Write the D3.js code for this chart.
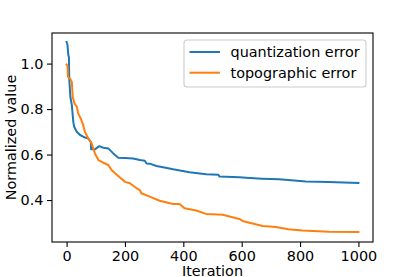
<!DOCTYPE html>
<html>
<head>
<meta charset="utf-8">
<script src="https://cdn.jsdelivr.net/npm/d3@7/dist/d3.min.js"></script>
<style>
  body { margin: 0; background: #fff; }
  svg text { font-family: "DejaVu Sans", sans-serif; }
</style>
</head>
<body>
<svg id="chart" width="415" height="277"></svg>
<script>
// quantization error
var qeIter = [0, 3, 6, 8, 9, 13, 18, 23, 26, 35, 46, 55, 63, 74, 83, 84, 97, 112, 126, 143, 160, 177, 200, 228, 251, 268, 274, 285, 308, 335, 365, 421, 478, 520, 524, 592, 615, 670, 728, 780, 820, 897, 950, 1000];
var qeVal = [1.095, 1.083, 1.036, 1.029, 0.934, 0.853, 0.817, 0.744, 0.722, 0.70, 0.686, 0.68, 0.675, 0.671, 0.656, 0.623, 0.623, 0.637, 0.63, 0.627, 0.605, 0.586, 0.585, 0.583, 0.576, 0.573, 0.561, 0.56, 0.55, 0.543, 0.535, 0.522, 0.513, 0.511, 0.503, 0.5, 0.498, 0.494, 0.491, 0.486, 0.482, 0.479, 0.477, 0.475];

// topographic error
var teIter = [0, 3, 5, 12, 18, 21, 27, 35, 40, 48, 55, 63, 74, 86, 97, 109, 126, 143, 154, 166, 188, 200, 217, 240, 251, 256, 285, 319, 365, 387, 404, 444, 478, 535, 592, 603, 672, 717, 760, 808, 899, 1000];
var teVal = [0.996, 0.99, 0.941, 0.934, 0.919, 0.853, 0.825, 0.81, 0.78, 0.76, 0.737, 0.70, 0.671, 0.649, 0.605, 0.576, 0.564, 0.554, 0.532, 0.518, 0.494, 0.48, 0.474, 0.452, 0.444, 0.43, 0.415, 0.397, 0.383, 0.383, 0.364, 0.354, 0.339, 0.335, 0.317, 0.308, 0.286, 0.281, 0.272, 0.266, 0.261, 0.259];

var seriesNames = ["quantization error", "topographic error"];
var xTicks = [0, 200, 400, 600, 800, 1000];
var yTicks = [0.4, 0.6, 0.8, 1.0];

var svg = d3.select("#chart"),
    plotLeft = 52, plotRight = 373, plotTop = 33, plotBottom = 242;

var x = d3.scaleLinear().domain([-50, 1050]).range([plotLeft, plotRight]);
var y = d3.scaleLinear().domain([0.2155, 1.1345]).range([plotBottom, plotTop]);

var colors = ["#1f77b4", "#ff7f0e"];
var series = [
  qeIter.map(function(d, i) { return [d, qeVal[i]]; }),
  teIter.map(function(d, i) { return [d, teVal[i]]; })
];

var line = d3.line()
    .x(function(d) { return x(d[0]); })
    .y(function(d) { return y(d[1]); });

svg.selectAll("path.series")
    .data(series)
  .enter().append("path")
    .attr("class", "series")
    .attr("d", line)
    .attr("fill", "none")
    .attr("stroke", function(d, i) { return colors[i]; })
    .attr("stroke-width", 2)
    .attr("stroke-linejoin", "round")
    .attr("stroke-linecap", "square");

// axes
var xAxis = svg.append("g")
    .attr("transform", "translate(0," + plotBottom + ")")
    .call(d3.axisBottom(x).tickValues(xTicks).tickFormat(d3.format("d")).tickSize(5).tickPadding(3.5).tickSizeOuter(0));
var yAxis = svg.append("g")
    .attr("transform", "translate(" + plotLeft + ",0)")
    .call(d3.axisLeft(y).tickValues(yTicks).tickFormat(d3.format(".1f")).tickSize(5).tickPadding(3.5).tickSizeOuter(0));

[xAxis, yAxis].forEach(function(g) {
  g.select(".domain").remove();
  g.selectAll("line").attr("stroke", "#000").attr("stroke-width", 1.1);
  g.selectAll("text").attr("fill", "#000").style("font-size", "14.4px").style("font-family", "DejaVu Sans, sans-serif");
});

// frame
svg.append("rect")
    .attr("x", plotLeft).attr("y", plotTop)
    .attr("width", plotRight - plotLeft).attr("height", plotBottom - plotTop)
    .attr("fill", "none").attr("stroke", "#000").attr("stroke-width", 1.1);

// labels
svg.append("text")
    .attr("x", (plotLeft + plotRight) / 2).attr("y", 276)
    .attr("text-anchor", "middle")
    .style("font-size", "14.4px")
    .text("Iteration");

svg.append("text")
    .attr("transform", "translate(11," + (plotTop + plotBottom) / 2 + ") rotate(-90)")
    .attr("text-anchor", "middle")
    .attr("dy", "0.35em")
    .style("font-size", "14.4px")
    .text("Normalized value");

// legend
var legend = svg.append("g");
legend.append("rect")
    .attr("x", 184).attr("y", 40)
    .attr("width", 182).attr("height", 47)
    .attr("rx", 3)
    .attr("fill", "#fff").attr("fill-opacity", 0.8)
    .attr("stroke", "#ccc").attr("stroke-width", 1.1);

var items = legend.selectAll("g.item")
    .data(seriesNames)
  .enter().append("g")
    .attr("transform", function(d, i) { return "translate(0," + (52 + i * 20.7) + ")"; });
items.append("line")
    .attr("x1", 189.5).attr("x2", 220)
    .attr("stroke", function(d, i) { return colors[i]; })
    .attr("stroke-width", 2);
items.append("text")
    .attr("x", 230.5)
    .attr("dy", "0.35em")
    .style("font-size", "14.4px")
    .text(function(d) { return d; });
</script>
</body>
</html>
